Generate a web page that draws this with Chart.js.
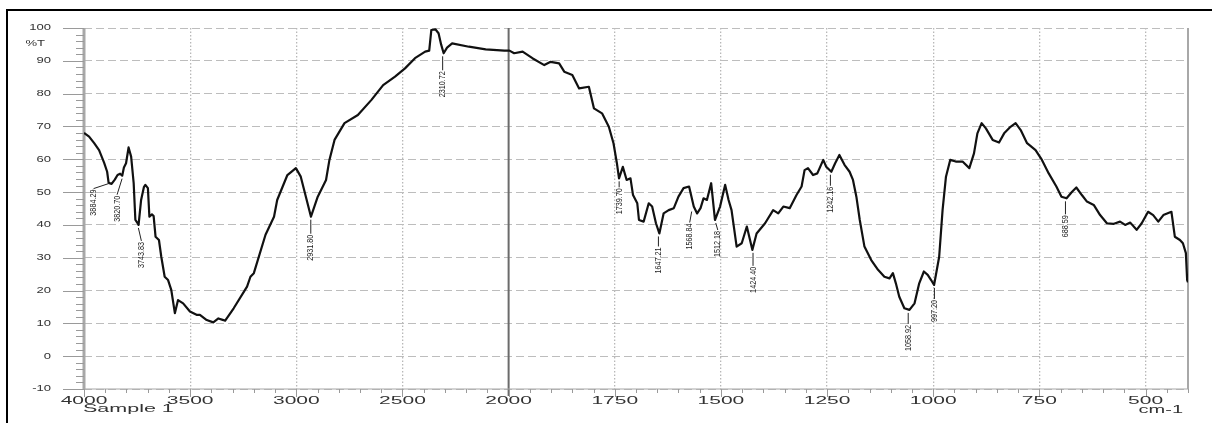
<!DOCTYPE html>
<html>
<head>
<meta charset="utf-8">
<script src="https://cdn.jsdelivr.net/npm/chart.js@4.4.1/dist/chart.umd.min.js"></script>
<style>
  body { margin: 0; background: #fff; }
</style>
</head>
<body>
<canvas id="spectro" width="1212" height="423"></canvas>
<script>
// spectrum (cm-1 / %T)
const wavenumbers = [
  4000, 3976, 3952, 3929, 3905, 3891, 3884, 3870, 3855, 3842, 3830, 3820, 3812, 3802, 3790, 3778,
  3766, 3758, 3747, 3743, 3731, 3718, 3711, 3699, 3692, 3680, 3672, 3663, 3647, 3636, 3620, 3604,
  3589, 3572, 3565, 3557, 3533, 3501, 3470, 3454, 3422, 3391, 3367, 3343, 3335, 3295, 3232, 3216,
  3200, 3145, 3105, 3090, 3042, 3002, 2979, 2955, 2931, 2899, 2860, 2844, 2820, 2773, 2710, 2646,
  2591, 2535, 2488, 2441, 2393, 2374, 2364, 2345, 2330, 2318, 2306, 2290, 2266, 2187, 2108, 2020,
  1998, 1987, 1967, 1944, 1916, 1901, 1881, 1869, 1850, 1834, 1811, 1799, 1780, 1764, 1753, 1745,
  1740, 1731, 1722, 1713, 1707, 1697, 1693, 1682, 1670, 1662, 1653, 1645, 1635, 1623, 1611, 1600,
  1588, 1575, 1564, 1556, 1548, 1541, 1533, 1523, 1514, 1502, 1490, 1482, 1475, 1463, 1451, 1439,
  1426, 1416, 1396, 1377, 1365, 1353, 1338, 1322, 1310, 1303, 1295, 1283, 1273, 1259, 1252, 1240,
  1231, 1221, 1209, 1197, 1189, 1181, 1173, 1162, 1146, 1130, 1115, 1103, 1095, 1088, 1080, 1068,
  1056, 1044, 1033, 1022, 1013, 1005, 998, 986, 978, 970, 960, 947, 931, 915, 904, 896,
  886, 876, 860, 845, 833, 818, 806, 794, 779, 759, 744, 728, 710, 698, 686, 673,
  663, 650, 638, 622, 607, 591, 576, 560, 548, 536, 521, 509, 494, 482, 470, 458,
  439, 431, 419, 412, 405, 402, 400
];
const transmittance = [
  68.0, 66.9, 64.9, 62.8, 58.9, 56.2, 52.8, 52.5, 53.8, 55.2, 55.6, 55.0, 57.5, 58.8, 63.6, 60.8,
  52.7, 41.5, 40.5, 40.0, 47.6, 51.5, 52.2, 51.2, 42.5, 43.2, 42.7, 36.4, 35.4, 30.3, 24.2, 23.2,
  20.2, 13.1, 15.0, 17.1, 16.1, 13.6, 12.6, 12.6, 11.0, 10.3, 11.5, 11.0, 10.8, 14.6, 21.2, 24.2,
  25.3, 37.0, 42.5, 47.6, 55.2, 57.3, 54.7, 48.6, 42.5, 48.6, 53.7, 59.8, 65.9, 71.0, 73.5, 78.1,
  82.6, 85.2, 87.7, 90.8, 92.8, 93.1, 99.4, 99.6, 98.4, 95.0, 92.3, 94.0, 95.3, 94.3, 93.5, 93.1,
  93.1, 92.3, 92.8, 90.8, 88.7, 89.7, 89.2, 86.7, 85.7, 81.6, 82.1, 75.5, 74.0, 69.9, 64.9, 58.8,
  54.2, 57.7, 53.7, 54.2, 49.1, 46.6, 41.5, 41.0, 46.6, 45.6, 40.5, 37.4, 43.5, 44.5, 45.1, 48.6,
  51.2, 51.7, 45.6, 43.5, 45.1, 48.1, 47.6, 52.7, 41.5, 45.6, 52.2, 47.6, 44.5, 33.4, 34.4, 39.5,
  32.4, 37.4, 40.5, 44.5, 43.5, 45.6, 45.1, 49.1, 51.7, 56.7, 57.3, 55.2, 55.7, 59.8, 57.7, 56.2,
  58.8, 61.3, 58.3, 56.2, 53.7, 48.6, 41.5, 33.4, 29.3, 26.3, 24.2, 23.7, 25.3, 22.2, 18.1, 14.6,
  14.1, 16.1, 22.2, 25.8, 24.8, 23.2, 21.7, 30.3, 44.5, 54.7, 59.8, 59.3, 59.3, 57.3, 61.8, 67.9,
  71.0, 69.4, 65.9, 65.1, 67.9, 69.9, 71.0, 68.9, 64.9, 62.8, 59.8, 55.7, 51.7, 48.6, 48.1, 50.1,
  51.4, 49.1, 47.1, 46.1, 43.0, 40.5, 40.3, 41.0, 40.0, 40.7, 38.5, 40.5, 44.0, 43.0, 41.0, 43.0,
  44.0, 36.4, 35.4, 34.4, 31.4, 23.2, 22.5
];

const xTickValues = [4000, 3500, 3000, 2500, 2000, 1750, 1500, 1250, 1000, 750, 500];
const xMinorTicks = [3900, 3800, 3700, 3600, 3400, 3300, 3200, 3100, 2900, 2800, 2700, 2600,
  2400, 2300, 2200, 2100, 1950, 1900, 1850, 1800, 1700, 1650, 1600, 1550, 1450, 1400, 1350, 1300,
  1200, 1150, 1100, 1050, 950, 900, 850, 800, 700, 650, 600, 550, 450, 400];
const yTickValues = [100, 90, 80, 70, 60, 50, 40, 30, 20, 10, 0, -10];

// picked peaks
const peakText = ["3884.29", "3820.70", "3743.83", "2931.80", "2310.72", "1739.70", "1647.21",
  "1568.84", "1512.18", "1424.40", "1242.16", "1058.92", "997.20", "688.59"];
const peakWn = [3884.29, 3820.70, 3743.83, 2931.80, 2310.72, 1739.70, 1647.21,
  1568.84, 1512.18, 1424.40, 1242.16, 1058.92, 997.20, 688.59];
const peakT = [53.5, 55.0, 40.0, 42.5, 92.3, 54.2, 37.4, 45.0, 41.5, 32.4, 56.2, 14.1, 21.7, 48.1];

// where the label sits relative to its peak (px): [dx, drop]
const peakPlace = [[-15, 9], [-5, 20], [3, 17], [0, 18], [0, 18], [0, 10], [0, 14],
  [-2, 15], [2, 11], [0, 17], [0, 15], [0, 15], [0, 15], [0, 17]];

// x axis of the instrument: 4000-2000 at one scale, 2000-400 expanded 2x
class WavenumberScale extends Chart.LinearScale {
  static id = "wavenumber";

  buildTicks() {
    return xTickValues.map((v) => ({ value: v }));
  }

  toUnits(value) {
    return value >= 2000 ? 4000 - value : 2000 + (2000 - value) * 2;
  }

  getPixelForValue(value) {
    return this.getPixelForDecimal(this.toUnits(value) / 5200);
  }

  getValueForPixel(pixel) {
    const u = this.getDecimalForPixel(pixel) * 5200;
    return u <= 2000 ? 4000 - u : 2000 - (u - 2000) / 2;
  }
}
Chart.register(WavenumberScale);

const labelFont = '"Liberation Sans", Arial, sans-serif';

// stretched text, like the printout
function wideText(ctx, text, x, y, align, stretch, size) {
  ctx.save();
  ctx.font = size + "px " + labelFont;
  ctx.translate(x, y);
  ctx.scale(stretch, 1);
  ctx.textAlign = align;
  ctx.textBaseline = "middle";
  ctx.fillText(text, 0, 0);
  ctx.restore();
}

const decor = {
  id: "decor",
  beforeDatasetsDraw(chart) {
    const ctx = chart.ctx;
    const x = chart.scales.x;
    const y = chart.scales.y;
    const area = chart.chartArea;
    ctx.save();

    // scale change line
    const x2000 = x.getPixelForValue(2000);
    ctx.strokeStyle = "#6b6b6b";
    ctx.lineWidth = 2;
    ctx.beginPath();
    ctx.moveTo(x2000, area.top);
    ctx.lineTo(x2000, area.bottom + 7);
    ctx.stroke();

    // axis lines
    ctx.strokeStyle = "#a8a8a8";
    ctx.lineWidth = 3;
    ctx.beginPath();
    ctx.moveTo(area.left, area.top);
    ctx.lineTo(area.left, area.bottom);
    ctx.stroke();
    ctx.lineWidth = 2;
    ctx.beginPath();
    ctx.moveTo(area.right, area.top);
    ctx.lineTo(area.right, area.bottom);
    ctx.stroke();
    ctx.lineWidth = 1.2;
    ctx.beginPath();
    ctx.moveTo(area.left, area.bottom);
    ctx.lineTo(area.right, area.bottom);
    ctx.stroke();

    // y ticks: major every 10, minor every 2
    ctx.strokeStyle = "#9a9a9a";
    ctx.lineWidth = 1;
    for (let v = -10; v <= 100; v += 2) {
      const py = Math.round(y.getPixelForValue(v)) + 0.5;
      const len = v % 10 === 0 ? 21 : 8;
      ctx.beginPath();
      ctx.moveTo(area.left - len, py);
      ctx.lineTo(area.left, py);
      ctx.stroke();
    }

    // x ticks
    xTickValues.forEach((v) => {
      const px = Math.round(x.getPixelForValue(v)) + 0.5;
      ctx.beginPath();
      ctx.moveTo(px, area.bottom);
      ctx.lineTo(px, area.bottom + 8);
      ctx.stroke();
    });
    xMinorTicks.forEach((v) => {
      const px = Math.round(x.getPixelForValue(v)) + 0.5;
      ctx.beginPath();
      ctx.moveTo(px, area.bottom);
      ctx.lineTo(px, area.bottom + 4);
      ctx.stroke();
    });
    ctx.restore();
  },

  afterDraw(chart) {
    const ctx = chart.ctx;
    const x = chart.scales.x;
    const y = chart.scales.y;
    const area = chart.chartArea;
    ctx.save();
    ctx.fillStyle = "#333";

    yTickValues.forEach((v) => {
      wideText(ctx, String(v), 51, y.getPixelForValue(v), "right", 1.45, 9);
    });
    wideText(ctx, "%T", 45, 44, "right", 1.45, 9);

    xTickValues.forEach((v) => {
      wideText(ctx, String(v), x.getPixelForValue(v), area.bottom + 12, "center", 2.1, 10);
    });
    wideText(ctx, "Sample 1", 83, area.bottom + 20, "left", 2.15, 10);
    wideText(ctx, "cm-1", 1183, area.bottom + 21, "right", 2.0, 10);

    // peak labels
    ctx.strokeStyle = "#222";
    ctx.fillStyle = "#222";
    ctx.lineWidth = 1;
    peakText.forEach((t, i) => {
      const px = x.getPixelForValue(peakWn[i]);
      const py = y.getPixelForValue(peakT[i]);
      const tx = px + peakPlace[i][0];
      const top = py + peakPlace[i][1];
      ctx.beginPath();
      ctx.moveTo(px, py + 3);
      ctx.lineTo(tx, top - 1);
      ctx.stroke();
      ctx.save();
      ctx.translate(tx, top);
      ctx.rotate(-Math.PI / 2);
      ctx.scale(0.8, 1);
      ctx.font = "9px " + labelFont;
      ctx.textAlign = "right";
      ctx.textBaseline = "middle";
      ctx.fillText(t, 0, 0);
      ctx.restore();
    });

    // frame of the printout
    ctx.strokeStyle = "#000";
    ctx.lineWidth = 2;
    ctx.beginPath();
    ctx.moveTo(7, 423);
    ctx.lineTo(7, 10);
    ctx.lineTo(1212, 10);
    ctx.stroke();
    ctx.restore();
  },
};

const spectro = new Chart(document.getElementById("spectro"), {
  type: "line",
  data: {
    datasets: [
      {
        label: "Sample 1",
        data: wavenumbers.map((w, i) => ({ x: w, y: transmittance[i] })),
        borderColor: "#111",
        borderWidth: 2.2,
        borderJoinStyle: "round",
        pointRadius: 0,
        tension: 0,
        fill: false,
      },
    ],
  },
  options: {
    responsive: false,
    animation: false,
    layout: {
      padding: { left: 0, right: 24, top: 28, bottom: 0 },
    },
    plugins: {
      legend: { display: false },
      tooltip: { enabled: false },
    },
    scales: {
      x: {
        type: "wavenumber",
        min: 400,
        max: 4000,
        ticks: { display: false },
        grid: {
          drawTicks: false,
          lineWidth: 1.3,
          color: (c) =>
            c.tick && (c.tick.value === 4000 || c.tick.value === 2000)
              ? "rgba(0,0,0,0)"
              : "#b8b8b8",
        },
        border: { display: false, dash: [1.5, 2] },
        afterFit: (s) => {
          s.height = 34;
        },
      },
      y: {
        min: -10,
        max: 100,
        ticks: { display: false, stepSize: 10 },
        grid: { drawTicks: false, color: "#bdbdbd", lineWidth: 1 },
        border: { display: false, dash: [8, 4] },
        afterFit: (s) => {
          s.width = 84;
        },
      },
    },
  },
  plugins: [decor],
});
</script>
</body>
</html>
